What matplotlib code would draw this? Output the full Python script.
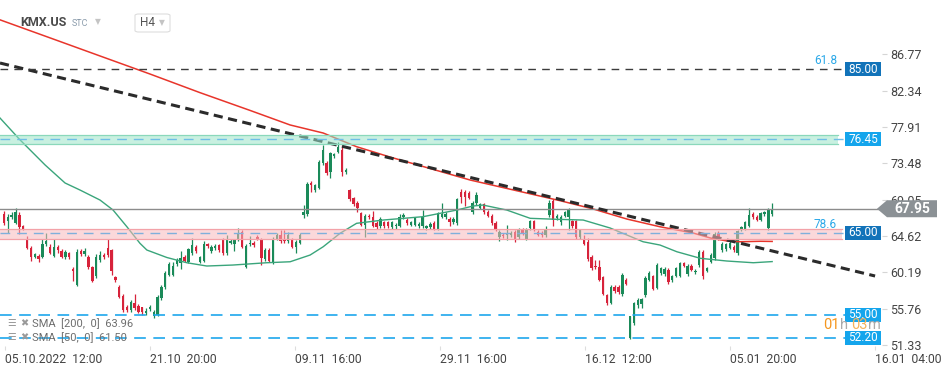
import matplotlib
matplotlib.use("Agg")
import matplotlib.pyplot as plt
import matplotlib.transforms as mtransforms
from matplotlib.patches import Rectangle, Polygon, FancyBboxPatch

plt.rcParams['font.family'] = ['Roboto', 'DejaVu Sans']

# ---------------- data ----------------
opens = [67.3, 66.4, 66.9, 66.2, 67.2, 65.8, 64.1, 63.2, 62.1, 62.2,
         62.0, 63.6, 63.3, 62.2, 63.3, 62.8, 62.0, 62.5, 60.6, 58.6,
         62.8, 62.4, 62.0, 60.8, 59.7, 61.7, 62.3, 63.1, 62.9, 59.6,
         58.4, 57.3, 56.0, 55.6, 56.5, 56.1, 55.9, 55.2, 55.7, 54.8,
         55.0, 57.0, 58.4, 59.9, 59.9, 61.2, 61.3, 62.1, 61.5, 62.5,
         63.3, 61.5, 61.6, 63.7, 62.8, 63.1, 63.5, 64.2, 62.5, 63.8,
         63.6, 64.2, 65.1, 60.9, 63.6, 63.8, 64.5, 64.2, 61.8, 62.9,
         61.4, 64.3, 64.8, 64.3, 64.0, 64.2, 63.3, 63.8, 67.2, 67.3,
         71.1, 70.2, 70.5, 73.5, 73.5, 72.4, 74.4, 74.9, 75.1, 72.4,
         70.2, 69.2, 68.7, 67.4, 66.0, 67.1, 66.95, 66.2, 65.8, 66.3,
         66.3, 65.7, 65.8, 65.9, 66.9, 66.6, 66.0, 66.0, 65.8, 65.8,
         65.6, 65.7, 66.2, 65.4, 66.9, 66.9, 66.7, 66.3, 66.2, 70.0,
         70.0, 69.9, 67.5, 68.6, 68.1, 68.5, 67.6, 67.1, 66.2, 64.5,
         64.8, 64.7, 64.7, 65.1, 64.5, 65.4, 64.3, 65.6, 66.4, 65.1,
         65.0, 64.7, 67.2, 68.9, 66.8, 66.3, 67.1, 67.0, 66.4, 66.4,
         64.5, 64.2, 63.9, 62.1, 61.0, 60.9, 59.6, 57.4, 56.4, 58.4,
         58.4, 57.5, 59.3, 52.2, 54.0, 56.2, 56.3, 57.4, 59.3, 59.7,
         58.3, 60.1, 60.0, 60.5, 59.2, 59.8, 59.8, 61.3, 60.0, 61.0,
         60.2, 61.1, 62.7, 60.4, 61.5, 61.9, 64.9, 62.9, 63.0, 63.2,
         63.3, 62.5, 65.4, 65.5, 65.9, 67.3, 67.0, 66.6, 67.3, 65.6,
         67.3]
highs = [67.7, 67.3, 67.5, 68.0, 67.5, 66.0, 64.6, 63.4, 62.6, 62.4,
         64.3, 65.0, 63.6, 64.3, 63.5, 63.0, 62.9, 62.7, 60.8, 63.0,
         63.0, 63.1, 62.3, 61.0, 62.4, 62.8, 62.5, 64.2, 63.0, 59.8,
         58.6, 57.5, 56.2, 56.8, 57.5, 56.3, 56.0, 55.8, 56.2, 55.6,
         57.4, 58.7, 60.3, 61.5, 61.4, 61.9, 62.8, 62.3, 63.2, 64.4,
         63.5, 62.2, 64.0, 63.8, 63.5, 63.6, 63.7, 64.4, 64.8, 64.3,
         64.3, 65.6, 65.3, 63.6, 64.6, 64.0, 64.7, 64.4, 63.1, 63.1,
         64.5, 65.0, 65.3, 65.3, 65.1, 64.4, 64.1, 65.0, 68.4, 71.2,
         71.3, 71.0, 73.9, 75.7, 73.8, 74.9, 74.8, 76.1, 75.7, 72.9,
         70.4, 69.4, 68.9, 67.6, 67.3, 67.3, 67.7, 66.4, 66.9, 66.5,
         66.5, 66.5, 66.2, 67.3, 67.4, 66.8, 66.5, 67.0, 66.3, 67.8,
         66.0, 66.3, 66.4, 67.6, 68.6, 67.5, 66.9, 66.9, 69.3, 70.4,
         70.2, 70.1, 68.9, 70.0, 68.7, 68.7, 67.8, 67.3, 66.4, 65.3,
         65.0, 66.0, 65.2, 65.3, 65.6, 65.6, 65.6, 66.6, 66.6, 65.3,
         65.2, 65.9, 69.0, 69.1, 67.3, 67.2, 67.7, 68.0, 66.6, 66.6,
         65.5, 64.7, 64.4, 62.3, 61.7, 61.7, 59.8, 57.6, 58.6, 58.6,
         58.6, 60.1, 59.5, 54.9, 56.6, 57.0, 57.1, 59.7, 60.3, 59.9,
         61.3, 60.9, 60.8, 60.7, 59.9, 60.9, 61.5, 61.5, 61.2, 61.2,
         60.6, 62.9, 62.9, 60.9, 62.5, 65.1, 65.2, 63.9, 63.8, 64.0,
         63.5, 65.4, 65.9, 66.5, 68.0, 67.5, 67.2, 67.6, 67.7, 68.0,
         68.6]
lows = [66.0, 65.0, 66.7, 66.1, 64.9, 65.3, 63.0, 61.6, 61.9, 61.5,
        61.9, 63.4, 62.4, 62.1, 62.6, 61.9, 61.8, 61.8, 59.1, 58.5,
        62.2, 62.2, 60.6, 59.0, 59.5, 61.5, 61.8, 62.1, 59.9, 59.0,
        57.0, 55.4, 55.4, 55.4, 55.6, 55.2, 55.0, 55.0, 55.5, 54.6,
        54.9, 56.8, 58.2, 59.7, 59.8, 61.0, 60.6, 61.4, 61.3, 62.3,
        62.6, 61.3, 61.5, 63.2, 62.6, 62.9, 62.7, 62.3, 62.3, 63.6,
        62.8, 64.0, 63.1, 60.7, 63.4, 63.3, 64.1, 61.1, 61.6, 61.4,
        61.2, 64.1, 63.8, 63.8, 63.8, 63.1, 62.6, 63.6, 66.85, 67.1,
        70.0, 70.0, 70.3, 73.3, 72.1, 71.7, 74.2, 74.7, 71.9, 72.2,
        68.9, 68.3, 67.6, 65.8, 64.5, 66.7, 65.7, 65.5, 65.6, 65.6,
        65.6, 65.5, 65.5, 65.7, 66.7, 66.0, 65.8, 65.9, 65.6, 65.6,
        65.4, 65.5, 65.3, 65.3, 66.8, 66.7, 65.9, 66.1, 66.0, 68.7,
        68.3, 69.1, 67.3, 68.4, 67.9, 67.3, 66.9, 66.0, 65.2, 64.0,
        64.4, 64.1, 64.5, 63.9, 64.3, 64.7, 64.1, 65.4, 65.2, 64.6,
        64.5, 64.5, 67.0, 65.8, 66.6, 66.0, 66.9, 65.4, 65.6, 64.3,
        64.3, 63.5, 61.6, 60.5, 60.6, 59.1, 57.4, 56.2, 56.3, 57.7,
        57.6, 57.3, 58.6, 52.1, 53.8, 55.8, 55.8, 57.2, 59.1, 58.0,
        58.1, 59.9, 59.8, 58.8, 59.0, 59.6, 59.6, 60.8, 59.8, 60.3,
        60.0, 60.9, 59.4, 60.2, 61.3, 61.7, 64.1, 62.7, 62.8, 63.0,
        62.7, 62.3, 65.2, 65.3, 65.7, 66.7, 66.4, 66.4, 67.1, 65.4,
        67.1]
closes = [66.2, 67.0, 67.2, 67.6, 65.7, 65.5, 63.2, 62.0, 62.4, 61.8,
          63.7, 64.0, 62.6, 63.3, 62.9, 62.0, 62.7, 62.0, 60.3, 62.7,
          62.4, 62.8, 60.8, 59.1, 62.0, 62.3, 62.0, 62.3, 60.3, 59.2,
          57.2, 55.6, 55.6, 56.6, 55.8, 55.4, 55.3, 55.5, 55.9, 55.3,
          57.2, 58.4, 60.1, 61.2, 61.0, 61.7, 61.9, 61.6, 63.0, 63.5,
          62.8, 62.0, 63.7, 63.4, 63.3, 63.4, 62.9, 62.5, 64.2, 64.0,
          64.1, 65.0, 63.3, 63.4, 63.8, 63.5, 64.3, 61.9, 62.9, 61.6,
          64.3, 64.8, 64.0, 64.0, 64.8, 63.3, 63.9, 64.8, 67.5, 71.0,
          70.8, 70.8, 73.7, 75.1, 72.3, 74.7, 74.6, 75.5, 72.4, 72.7,
          69.1, 68.5, 68.1, 66.0, 67.1, 66.9, 65.9, 65.7, 66.7, 65.8,
          65.8, 66.3, 66.0, 67.0, 67.2, 66.2, 66.3, 66.8, 66.1, 67.0,
          65.8, 66.1, 65.5, 67.4, 67.3, 67.3, 66.3, 66.7, 69.1, 69.4,
          69.4, 69.3, 68.7, 69.6, 68.5, 67.5, 67.1, 66.2, 65.4, 65.1,
          64.6, 65.0, 65.0, 64.3, 65.4, 64.9, 65.4, 66.4, 65.4, 64.8,
          64.7, 65.5, 68.6, 66.6, 67.1, 67.0, 67.5, 67.8, 65.8, 64.5,
          65.3, 63.7, 61.8, 60.7, 60.8, 59.3, 57.6, 56.4, 58.4, 57.9,
          57.8, 59.9, 58.8, 54.8, 56.4, 56.8, 56.9, 59.5, 60.1, 58.2,
          61.1, 60.7, 60.6, 59.0, 59.7, 60.7, 61.3, 61.0, 61.0, 60.5,
          60.4, 62.7, 59.7, 60.7, 62.3, 64.9, 64.3, 63.7, 63.6, 63.8,
          62.9, 65.2, 65.7, 66.3, 67.2, 66.9, 66.6, 67.4, 67.5, 67.8,
          67.95]

# moving averages read at key candles (index, price)
sma200_x = [-1.04, 12.8, 25.0, 38.0, 51.0, 64.1, 74.5, 83.1, 91.8, 100.5,
            121.4, 144.8, 153.4, 162.2, 170.8, 179.4, 183.9, 188.3, 191.7, 196.9, 200.0]
sma200_y = [91.0, 88.66, 86.59, 84.39, 82.12, 79.94, 78.17, 77.19, 75.52, 74.26,
            71.45, 68.93, 67.92, 66.69, 65.75, 64.99, 64.38, 64.01, 63.92, 63.98, 63.96]
sma50_x = [-1.04, 4.2, 10.7, 15.9, 19.8, 25.0, 28.4, 32.0, 35.4, 37.2, 42.4, 47.6,
           52.8, 59.6, 68.4, 74.5, 79.7, 83.1, 87.5, 91.8, 98.7, 109.1, 117.9, 122.1,
           124.7, 130.9, 137.0, 143.9, 150.8, 157.8, 166.4, 170.8, 175.2, 181.3, 188.2,
           195.1, 200.0]
sma50_y = [79.02, 76.34, 73.29, 71.09, 70.23, 69.01, 67.79, 65.75, 63.73, 62.91, 62.0,
           61.36, 60.96, 61.08, 61.36, 61.48, 62.30, 63.31, 64.95, 66.17, 66.57, 66.98,
           67.79, 68.28, 68.40, 67.79, 66.78, 66.66, 66.57, 65.60, 63.92, 63.52, 62.70,
           61.90, 61.57, 61.36, 61.50]
trend_x = [-1.04, 226.8]
trend_y = [85.73, 59.74]

levels = [85.00, 76.45, 65.00, 55.00, 52.20]
level_labels = ['85.00', '76.45', '65.00', '55.00', '52.20']
fib_labels = ['61.8', '', '78.6', '', '']
zone_green = (75.81, 76.91)
zone_pink = (64.29, 65.44)
last_price = 67.95

yticks = [51.33, 55.76, 60.19, 64.62, 69.05, 73.48, 77.91, 82.34, 86.77]
xtick_pos = [0.26, 38.0, 75.8, 113.5, 151.3, 189.1, 226.8]
xtick_labels = ['05.10.2022  12:00', '21.10  20:00', '09.11  16:00', '29.11  16:00',
                '16.12  12:00', '05.01  20:00', '16.01  04:00']

# ---------------- figure ----------------
W, H = 949, 370
fig = plt.figure(figsize=(W / 100, H / 100), dpi=100)
fig.patch.set_facecolor('white')
ax = fig.add_axes([0, 1 - 346 / H, 882 / W, 346 / H])
ax.set_xlim(-1.04, 228.6)
ax.set_ylim(51.20, 93.42)
for s in ax.spines.values():
    s.set_visible(False)

UP = '#1a8a59'
DN = '#d7233b'
idx = list(range(len(closes)))
cols = [UP if c >= o else DN for o, c in zip(opens, closes)]
bottoms = [min(o, c) for o, c in zip(opens, closes)]
heights = [max(abs(c - o), 0.06) for o, c in zip(opens, closes)]
ax.vlines(idx, lows, highs, colors=cols, lw=0.9, zorder=2)
ax.bar(idx, heights, bottom=bottoms, width=0.62, color=cols, lw=0, zorder=2)

# moving averages
ax.plot(sma200_x, sma200_y, color='#e8352b', lw=1.1, zorder=3)
ax.plot(sma50_x, sma50_y, color='#3aa57b', lw=1.0, zorder=3)

# current price line
ax.axhline(last_price, color='#8c8c8c', lw=1.0, zorder=3)

# trend line
ax.plot(trend_x, trend_y, color='#2b2b2b', lw=2.2, dashes=(3.0, 1.8), zorder=4,
        solid_capstyle='butt', dash_capstyle='butt')

trans = mtransforms.blended_transform_factory(ax.transAxes, ax.transData)
band_end_g = 838 / 882
band_end_p = 842 / 882
for (lo, hi), fc, ec, bend in [(zone_green, '#9be4c7', '#8ad8bb', band_end_g),
                               (zone_pink, '#f9b8bc', '#f3a2a8', band_end_p)]:
    ax.add_patch(Rectangle((0, lo), bend, hi - lo, transform=trans, fc=fc, alpha=0.55,
                           ec='none', zorder=5))
    ax.plot([0, bend], [lo, lo], transform=trans, color=ec, lw=0.9, zorder=5)
    ax.plot([0, bend], [hi, hi], transform=trans, color=ec, lw=0.9, zorder=5)

line_end = 845 / 882
level_styles = {
    85.00: dict(color='#3c3c3c', lw=1.0, dashes=(5.5, 4.5)),
    76.45: dict(color='#6fbde6', lw=1.0, dashes=(7, 5)),
    65.00: dict(color='#7fb0dc', lw=1.0, dashes=(7, 5)),
    55.00: dict(color='#1ea7ec', lw=1.2, dashes=(7, 4.5)),
    52.20: dict(color='#1ea7ec', lw=1.2, dashes=(7, 4.5)),
}
box_colors = {85.00: '#1273b9', 76.45: '#14a5ec', 65.00: '#1273b9', 55.00: '#14a5ec', 52.20: '#14a5ec'}
for lv, lab, fib in zip(levels, level_labels, fib_labels):
    st = level_styles[lv]
    ax.plot([0, line_end], [lv, lv], transform=trans, zorder=6, **st)
    ax.add_patch(Rectangle((845 / 882, lv - 0.82), 36 / 882, 1.64, transform=trans,
                           fc=box_colors[lv], ec='none', zorder=7, clip_on=False))
    ax.text(863 / 882, lv, lab, transform=trans, ha='center', va='center',
            color='white', fontsize=8.5, zorder=8)
    if fib:
        ax.text(837 / 882, lv + 1.02, fib, transform=trans, ha='right', va='center',
                color='#2aa8e8', fontsize=8.5, zorder=8)

# axes ticks
ax.yaxis.tick_right()
ax.set_yticks(yticks)
ax.set_yticklabels([f'{v:.2f}' for v in yticks])
ax.tick_params(axis='y', length=3.6, width=0.8, color='#d5d5d5', labelcolor='#444444',
               labelsize=9, pad=2.5)
ax.set_xticks(xtick_pos)
ax.set_xticklabels(xtick_labels)
for lab in ax.get_xticklabels():
    lab.set_horizontalalignment('left')
ax.tick_params(axis='x', length=3, width=0.8, color='#dddddd', labelcolor='#444444',
               labelsize=8.7, pad=2)


def fig_xy(px, py):
    return px / W, 1 - py / H


def price_py(p):
    return H - ax.transData.transform((0, p))[1]


# current price tag
py = price_py(last_price)
tag = Polygon([fig_xy(877, py), fig_xy(887, py - 8.5), fig_xy(937, py - 8.5),
               fig_xy(937, py + 8.5), fig_xy(887, py + 8.5)], closed=True,
              transform=fig.transFigure, fc='#8b9195', ec='none', zorder=10)
fig.add_artist(tag)
fig.text(*fig_xy(912, py), f'{last_price:.2f}', ha='center', va='center', color='white',
         fontsize=10, fontweight='bold', zorder=11)

# countdown
cy = price_py(53.75)
renderer = fig.canvas.get_renderer()
xcur = 823
for part, col in [('01', '#f5961e'), ('h ', '#aaaaaa'), ('03', '#f5b25a'), ('m', '#aaaaaa')]:
    t = fig.text(*fig_xy(xcur, cy), part, ha='left', va='center', color=col, fontsize=10.5,
                 zorder=9)
    bb = t.get_window_extent(renderer)
    xcur += bb.width

# legend (bottom left)
for yy, txt in [(323.5, 'SMA  [200,  0]  63.96'), (337.5, 'SMA  [50,  0]  61.50')]:
    fig.text(*fig_xy(7, yy), '\u2630', ha='left', va='center', color='#9a9a9a', fontsize=7,
             family=['DejaVu Sans'])
    fig.text(*fig_xy(20, yy), '\u2716', ha='left', va='center', color='#9a9a9a', fontsize=7,
             family=['DejaVu Sans'])
    fig.text(*fig_xy(32, yy), txt, ha='left', va='center', color='#6d6d6d', fontsize=8)

# header
fig.text(*fig_xy(20, 22.5), 'KMX.US', ha='left', va='center', color='#4a4a4a', fontsize=9,
         fontweight='bold')
fig.text(*fig_xy(72, 24), 'STC', ha='left', va='center', color='#8a9bab', fontsize=6.5)
fig.text(*fig_xy(95, 21.5), '\u25BC', ha='left', va='center', color='#c4c4c4', fontsize=5.5,
         family=['DejaVu Sans'])
box = FancyBboxPatch(fig_xy(135, 32), 35 / W, 18 / H, boxstyle='round,pad=0,rounding_size=0.004',
                     transform=fig.transFigure, fc='white', ec='#dddddd', lw=0.8, zorder=5)
fig.add_artist(box)
fig.text(*fig_xy(140, 23), 'H4', ha='left', va='center', color='#555555', fontsize=8.5, zorder=6)
fig.text(*fig_xy(159, 22.5), '\u25BC', ha='left', va='center', color='#c4c4c4', fontsize=5.5,
         family=['DejaVu Sans'], zorder=6)

fig.savefig('out.png', dpi=100, facecolor='white')
